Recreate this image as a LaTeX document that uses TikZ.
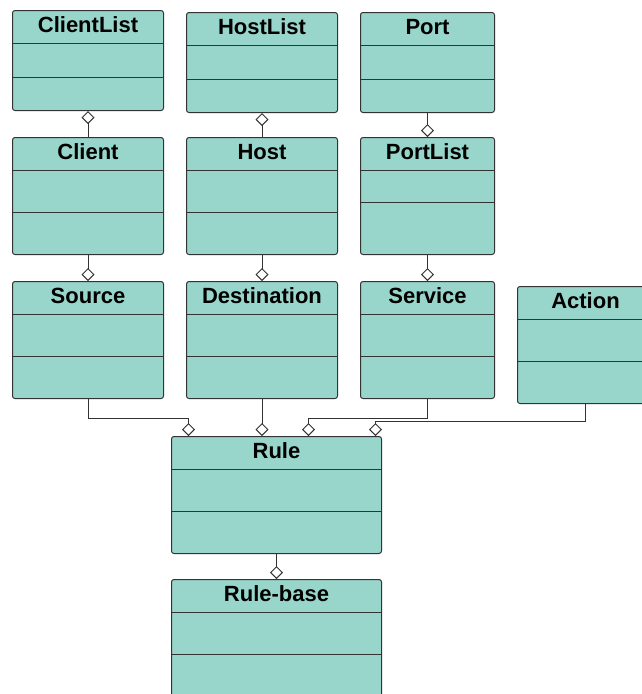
\documentclass[tikz,border=0pt]{standalone}
\usepackage{fontspec}
\setmainfont{Liberation Sans}
\usetikzlibrary{arrows.meta}

\definecolor{classfill}{RGB}{152,213,202}
\definecolor{classline}{RGB}{51,51,51}

\begin{document}
\begin{tikzpicture}[x=1pt,y=1pt,
    class box/.style={draw=classline,fill=classfill,line width=1pt,rounded corners=2.5pt,anchor=north west,inner sep=0pt},
    class name/.style={anchor=base,yshift=-22pt,inner sep=0pt,font=\bfseries\fontsize{22}{26}\selectfont},
    agg/.style={draw=classline,line width=0.9pt,-{Diamond[open,length=13pt,width=13pt]}}]

    \useasboundingbox (0,0) rectangle (641,-694);

    % class boxes
    \node[class box,minimum width=151pt,minimum height=100pt] (clientlist) at (12,-10) {};
    \node[class box,minimum width=151pt,minimum height=100pt] (hostlist) at (186,-12) {};
    \node[class box,minimum width=134pt,minimum height=100pt] (port) at (360,-12) {};
    \node[class box,minimum width=151pt,minimum height=117pt] (client) at (12,-137) {};
    \node[class box,minimum width=151pt,minimum height=117pt] (host) at (186,-137) {};
    \node[class box,minimum width=134pt,minimum height=117pt] (portlist) at (360,-137) {};
    \node[class box,minimum width=151pt,minimum height=117pt] (source) at (12,-281) {};
    \node[class box,minimum width=151pt,minimum height=117pt] (destination) at (186,-281) {};
    \node[class box,minimum width=134pt,minimum height=117pt] (service) at (360,-281) {};
    \node[class box,minimum width=136pt,minimum height=117pt] (action) at (517,-286) {};
    \node[class box,minimum width=210pt,minimum height=117pt] (rule) at (171,-436) {};
    \node[class box,minimum width=210pt,minimum height=117pt] (rulebase) at (171,-579) {};

    % compartment lines
    \foreach \n/\a/\b in {clientlist/33/67, hostlist/33/67, port/33/67,
                          client/33/75, host/33/75, portlist/33/65,
                          source/33/75, destination/33/75, service/33/75,
                          action/33/75, rule/33/75, rulebase/33/75} {
        \draw[classline,line width=1pt] ([yshift=-\a pt]\n.north west) -- ([yshift=-\a pt]\n.north east);
        \draw[classline,line width=1pt] ([yshift=-\b pt]\n.north west) -- ([yshift=-\b pt]\n.north east);
    }

    % class names
    \foreach \n/\t in {clientlist/ClientList, hostlist/HostList, port/Port,
                       client/Client, host/Host, portlist/PortList,
                       source/Source, destination/Destination, service/Service,
                       action/Action, rule/Rule, rulebase/Rule-base}
        \node[class name] (\n-name) at (\n.north) {\t};

    % aggregations
    \draw[agg] (client.north) -- (clientlist.south);
    \draw[agg] (host.north) -- (hostlist.south);
    \draw[agg] (port.south) -- (portlist.north);
    \draw[agg] (client.south) -- (source.north);
    \draw[agg] (host.south) -- (destination.north);
    \draw[agg] (portlist.south) -- (service.north);
    \draw[agg] (source.south) -- ++(0,-19) -| ([xshift=-88pt]rule.north);
    \draw[agg] (destination.south) -- (destination.south |- rule.north);
    \draw[agg] (service.south) -- ++(0,-19) -| ([xshift=32pt]rule.north);
    \draw[agg] (action.south) -- ++(0,-17) -| ([xshift=99pt]rule.north);
    \draw[agg] (rule.south) -- (rulebase.north);
\end{tikzpicture}
\end{document}
